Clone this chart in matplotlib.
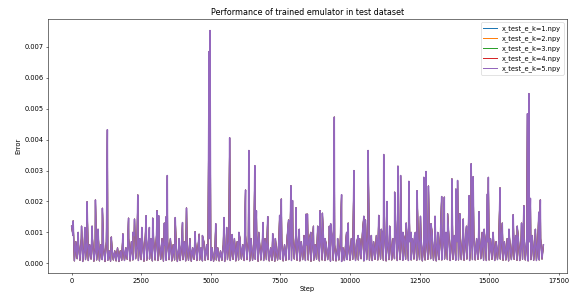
import numpy as np
import matplotlib
matplotlib.use('Agg')
import matplotlib.pyplot as plt

# Band of the error curve: low and high value in every 100-step bin
band_lo = [
    0.00012, 0.00008, 0.00015, 0.00010, 0.00006, 0.00012, 0.00009, 0.00014, 0.00007, 0.00011,
    0.00008, 0.00012, 0.00006, 0.00010, 0.00007, 0.00011, 0.00008, 0.00006, 0.00010, 0.00009,
    0.00013, 0.00008, 0.00011, 0.00015, 0.00009, 0.00012, 0.00007, 0.00010, 0.00014, 0.00008,
    0.00011, 0.00009, 0.00013, 0.00007, 0.00010, 0.00012, 0.00008, 0.00011, 0.00006, 0.00009,
    0.00012, 0.00008, 0.00010, 0.00007, 0.00013, 0.00009, 0.00011, 0.00008, 0.00010, 0.00012,
    0.00009, 0.00007, 0.00011, 0.00008, 0.00010, 0.00006, 0.00012, 0.00009, 0.00013, 0.00008,
    0.00011, 0.00014, 0.00009, 0.00012, 0.00008, 0.00010, 0.00013, 0.00007, 0.00011, 0.00009,
    0.00012, 0.00008, 0.00010, 0.00007, 0.00011, 0.00013, 0.00008, 0.00010, 0.00012, 0.00009,
    0.00014, 0.00010, 0.00008, 0.00012, 0.00009, 0.00011, 0.00007, 0.00010, 0.00013, 0.00008,
    0.00011, 0.00009, 0.00012, 0.00007, 0.00010, 0.00008, 0.00011, 0.00006, 0.00009, 0.00012,
    0.00010, 0.00013, 0.00009, 0.00011, 0.00015, 0.00008, 0.00012, 0.00010, 0.00009, 0.00013,
    0.00011, 0.00014, 0.00010, 0.00008, 0.00012, 0.00011, 0.00015, 0.00009, 0.00012, 0.00010,
    0.00013, 0.00009, 0.00011, 0.00014, 0.00010, 0.00012, 0.00008, 0.00011, 0.00013, 0.00015,
    0.00010, 0.00008, 0.00012, 0.00011, 0.00014, 0.00012, 0.00009, 0.00013, 0.00010, 0.00011,
    0.00012, 0.00010, 0.00014, 0.00009, 0.00012, 0.00011, 0.00013, 0.00015, 0.00010, 0.00009,
    0.00011, 0.00013, 0.00009, 0.00012, 0.00014, 0.00010, 0.00011, 0.00008, 0.00012, 0.00013,
    0.00010, 0.00009, 0.00013, 0.00011, 0.00008, 0.00012, 0.00010, 0.00009, 0.00011, 0.00014,
]
band_hi = [
    0.0009, 0.0007, 0.0006, 0.0008, 0.0005, 0.0007, 0.0006, 0.0008, 0.0005, 0.0007,
    0.0006, 0.0005, 0.0007, 0.0004, 0.0005, 0.0004, 0.0005, 0.0004, 0.0006, 0.0005,
    0.0008, 0.0007, 0.0009, 0.0006, 0.0008, 0.0007, 0.0009, 0.0006, 0.0008, 0.0007,
    0.0009, 0.0007, 0.0008, 0.0006, 0.0007, 0.0008, 0.0006, 0.0007, 0.0005, 0.0006,
    0.0007, 0.0006, 0.0008, 0.0005, 0.0007, 0.0006, 0.0005, 0.0007, 0.0006, 0.0008,
    0.0005, 0.0004, 0.0005, 0.0004, 0.0006, 0.0005, 0.0007, 0.0006, 0.0008, 0.0007,
    0.0008, 0.0006, 0.0009, 0.0007, 0.0008, 0.0006, 0.0009, 0.0007, 0.0006, 0.0008,
    0.0007, 0.0005, 0.0006, 0.0005, 0.0008, 0.0007, 0.0006, 0.0009, 0.0008, 0.0007,
    0.0009, 0.0008, 0.0007, 0.0009, 0.0006, 0.0008, 0.0007, 0.0006, 0.0008, 0.0009,
    0.0008, 0.0006, 0.0007, 0.0009, 0.0006, 0.0005, 0.0006, 0.0005, 0.0007, 0.0006,
    0.0008, 0.0009, 0.0007, 0.0008, 0.0010, 0.0007, 0.0009, 0.0008, 0.0007, 0.0009,
    0.0008, 0.0010, 0.0009, 0.0007, 0.0009, 0.0008, 0.0010, 0.0007, 0.0009, 0.0008,
    0.0009, 0.0007, 0.0008, 0.0010, 0.0008, 0.0009, 0.0007, 0.0008, 0.0009, 0.0010,
    0.0008, 0.0007, 0.0009, 0.0008, 0.0010, 0.0009, 0.0008, 0.0009, 0.0007, 0.0008,
    0.0009, 0.0008, 0.0010, 0.0007, 0.0009, 0.0008, 0.0009, 0.0010, 0.0008, 0.0007,
    0.0008, 0.0009, 0.0007, 0.0008, 0.0009, 0.0007, 0.0008, 0.0006, 0.0008, 0.0009,
    0.0008, 0.0007, 0.0009, 0.0008, 0.0007, 0.0009, 0.0008, 0.0007, 0.0008, 0.0006,
]

# Spikes above the band
peak_steps = [
    57, 236, 357, 475, 557, 736, 857, 950, 1107, 1286, 1428, 1843, 2046, 2200, 2260,
    2378, 2521, 2678, 2796, 2914, 3071, 3128, 3332, 3392, 3439, 3725, 3867, 3985,
    4128, 4439, 4582, 4700, 4939, 4974, 5178, 5474, 5571, 5678, 5771, 6010, 6249,
    6367, 6581, 6640, 6724, 6878, 7046, 7224, 7321, 7474, 7535, 7796, 7878, 7938,
    8056, 8178, 8428, 8474, 8592, 8688, 8842, 8928, 9010, 9106, 9260, 9306, 9438,
    9556, 9699, 9878, 9938, 10142, 10295, 10499, 10556, 10652, 10770, 11034, 11127,
    11213, 11331, 11427, 11606, 11724, 11820, 11902, 12020, 12116, 12199, 12320,
    12413, 12534, 12652, 12734, 12820, 12913, 13056, 13152, 13295, 13391, 13509,
    13663, 13806, 13866, 13948, 14070, 14188, 14284, 14356, 14427, 14641, 14820,
    14937, 14973, 15141, 15391, 15473, 15712, 15866, 16009, 16163, 16248, 16377,
    16427, 16484, 16663, 16784, 16841,
]
peak_errors = [
    0.00137, 0.0010, 0.0012, 0.00116, 0.00199, 0.0012, 0.00205, 0.0011, 0.00178, 0.00432,
    0.00085, 0.00095, 0.00146, 0.0010, 0.00143, 0.00221, 0.00116, 0.00154, 0.00116, 0.00146,
    0.0017, 0.00154, 0.0013, 0.0015, 0.00284, 0.00148, 0.0008, 0.00132, 0.00179, 0.00102,
    0.00094, 0.0009, 0.00685, 0.00753, 0.00128, 0.00148, 0.00116, 0.00406, 0.00093, 0.0010,
    0.00237, 0.00365, 0.00316, 0.0017, 0.0010, 0.00132, 0.00151, 0.00096, 0.0008, 0.00155,
    0.00208, 0.0014, 0.00251, 0.00203, 0.0018, 0.0011, 0.00159, 0.00159, 0.0010, 0.0012,
    0.0012, 0.0017, 0.00162, 0.0008, 0.0012, 0.00128, 0.00473, 0.0008, 0.00222, 0.0010,
    0.0013, 0.0030, 0.0009, 0.00152, 0.0014, 0.00365, 0.0009, 0.00155, 0.0011, 0.00352,
    0.0020, 0.0012, 0.0023, 0.00314, 0.00284, 0.0010, 0.0013, 0.00265, 0.0010, 0.0009,
    0.00235, 0.00152, 0.00278, 0.00297, 0.0025, 0.00128, 0.00152, 0.0010, 0.00216, 0.00214,
    0.0016, 0.00273, 0.0024, 0.00268, 0.0016, 0.00143, 0.0012, 0.00219, 0.00322, 0.0028,
    0.00167, 0.0011, 0.00224, 0.00278, 0.0010, 0.00244, 0.0013, 0.0011, 0.00157, 0.0012,
    0.0013, 0.00186, 0.00484, 0.00549, 0.0021, 0.0011, 0.00165, 0.00205,
]

labels = ['x_test_e_k=1.npy', 'x_test_e_k=2.npy', 'x_test_e_k=3.npy',
          'x_test_e_k=4.npy', 'x_test_e_k=5.npy']

# Build the curve: band points (low, high per bin) merged with the spikes
band_steps = np.arange(0, 100 * len(band_lo), 50)
band_vals = np.empty(2 * len(band_lo))
band_vals[0::2] = band_lo
band_vals[1::2] = band_hi
band_vals[0] = 0.0012

step = np.concatenate([band_steps, peak_steps])
err = np.concatenate([band_vals, peak_errors])
order = np.argsort(step, kind='stable')
step, err = step[order], err[order]

fig = plt.figure(figsize=(577 / 48, 294 / 48), dpi=48)
ax = fig.add_axes([48 / 577, 21 / 294, 519 / 577, 254 / 294])
for i, lab in enumerate(labels):
    # last series drawn thicker so it covers the (identical) ones below
    lw = 2.2 if i == len(labels) - 1 else 1.5
    ax.plot(step, err, label=lab, lw=lw)
ax.set_xlabel('Step')
ax.set_ylabel('Error')
ax.set_title('Performance of trained emulator in test dataset')
leg = ax.legend(loc='upper right')
for line in leg.get_lines():
    line.set_linewidth(1.5)
fig.savefig('out.png', dpi=48)
